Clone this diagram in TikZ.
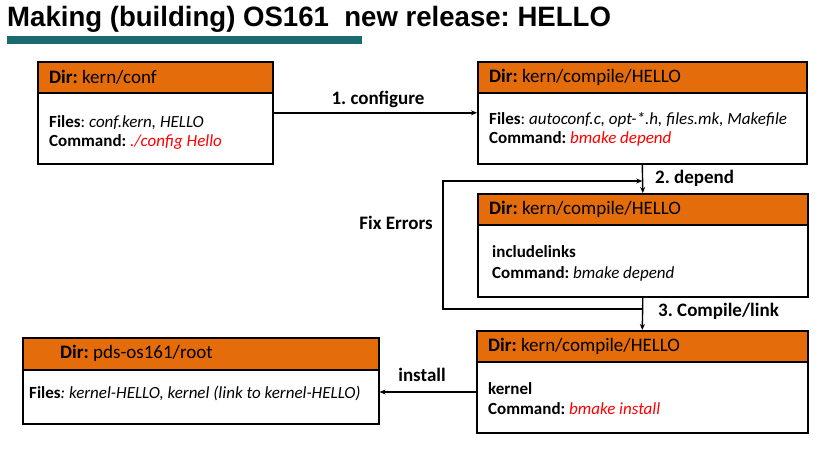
\documentclass[tikz,border=0pt]{standalone}
\usepackage{fontspec}
\setmainfont{Carlito}
\newfontfamily\titlefont{Liberation Sans}
\usetikzlibrary{arrows.meta}
\definecolor{hdr}{HTML}{E46C0A}
\definecolor{bar}{HTML}{1C6B70}
\definecolor{cmd}{HTML}{FF0000}
\frenchspacing

\begin{document}
\begin{tikzpicture}[x=1pt,y=-1pt,
  box/.style={draw=black, line width=1.6pt, fill=white, inner sep=0, anchor=north west},
  hdrbar/.style={draw=black, line width=1.6pt, fill=hdr, inner sep=0, anchor=north west, minimum height=31pt},
  hdrtxt/.style={anchor=base west, inner sep=0, font=\fontsize{19}{22}\selectfont},
  txt/.style={anchor=base west, inner sep=0, font=\fontsize{17}{20}\selectfont},
  lbl/.style={inner sep=0, font=\fontsize{19}{22}\selectfont\bfseries},
  flow/.style={line width=1.4pt, -{Stealth[length=6pt,width=5pt]}}
]
\useasboundingbox (0,0) rectangle (830,451);

% title and underline bar
\node[anchor=base west, inner sep=0] (title) at (7,26)
  {\titlefont\bfseries\fontsize{28}{32}\selectfont\scalebox{0.985}[1]{Making (building) OS161\ \ new release: HELLO}};
\fill[bar] (7,36) rectangle (362,44);

% box 1: kern/conf
\node[box, minimum width=235pt, minimum height=102pt] (b1) at (37,61) {};
\node[hdrbar, minimum width=235pt] (h1) at (b1.north west) {};
\node[hdrtxt] (h1t) at (49,83) {\textbf{Dir:} kern/conf};
\node[txt] (b1f) at (49,127) {\textbf{Files}: \textit{conf.kern, HELLO}};
\node[txt] (b1c) at (49,146) {\textbf{Command:} \textcolor{cmd}{\textit{./config Hello}}};

% box 2: kern/compile/HELLO (configure output)
\node[box, minimum width=329pt, minimum height=102pt] (b2) at (477,61) {};
\node[hdrbar, minimum width=329pt] (h2) at (b2.north west) {};
\node[hdrtxt] (h2t) at (489,82) {\textbf{Dir:} kern/compile/HELLO};
\node[txt] (b2f) at (489,124) {\textbf{Files}: \textit{autoconf.c, opt-*.h, files.mk, Makefile}};
\node[txt] (b2c) at (489,143) {\textbf{Command:} \textcolor{cmd}{\textit{bmake depend}}};

% box 3: kern/compile/HELLO (depend)
\node[box, minimum width=330pt, minimum height=103pt] (b3) at (477,193) {};
\node[hdrbar, minimum width=330pt] (h3) at (b3.north west) {};
\node[hdrtxt] (h3t) at (489,214) {\textbf{Dir:} kern/compile/HELLO};
\node[txt] (b3f) at (492,257) {\textbf{includelinks}};
\node[txt] (b3c) at (492,278) {\textbf{Command:} \textit{bmake depend}};

% box 4: kern/compile/HELLO (compile/link)
\node[box, minimum width=331pt, minimum height=102pt] (b4) at (476,330) {};
\node[hdrbar, minimum width=331pt] (h4) at (b4.north west) {};
\node[hdrtxt] (h4t) at (488,351) {\textbf{Dir:} kern/compile/HELLO};
\node[txt] (b4f) at (488,394) {\textbf{kernel}};
\node[txt] (b4c) at (488,414) {\textbf{Command:} \textcolor{cmd}{\textit{bmake install}}};

% box 5: pds-os161/root
\node[box, minimum width=356pt, minimum height=86pt] (b5) at (22,337) {};
\node[hdrbar, minimum width=356pt, minimum height=32pt] (h5) at (b5.north west) {};
\node[hdrtxt] (h5t) at (60,358) {\textbf{Dir:} pds-os161/root};
\node[txt] (b5f) at (29,398) {\textbf{Files}\textit{: kernel-HELLO, kernel (link to kernel-HELLO)}};

% connectors
\draw[flow] (b1.east) -- (b2.west);
\node[lbl, anchor=base] (l1) at (378,104) {1. configure};

\draw[flow] (b2.south) -- (b3.north);
\node[lbl, anchor=base west] (l2) at (655,183) {2. depend};

\draw[flow] (b3.south) -- (b4.north);
\node[lbl, anchor=base west] (l3) at (658,316) {3. Compile/link};

\coordinate (loopA) at (b3.south |- 0,309);
\coordinate (loopB) at (443,309);
\coordinate (loopT) at (b2.south |- 0,181);
\draw[flow, line width=1.2pt] (loopA) -- (loopB) |- (loopT);
\node[lbl, anchor=base] (lfix) at (396,229) {Fix Errors};

\coordinate (instA) at (b4.west |- 0,392);
\coordinate (instB) at (b5.east |- 0,392);
\draw[flow, line width=1.2pt] (instA) -- (instB);
\node[lbl, anchor=base] (linst) at (422,381) {install};
\end{tikzpicture}
\end{document}
